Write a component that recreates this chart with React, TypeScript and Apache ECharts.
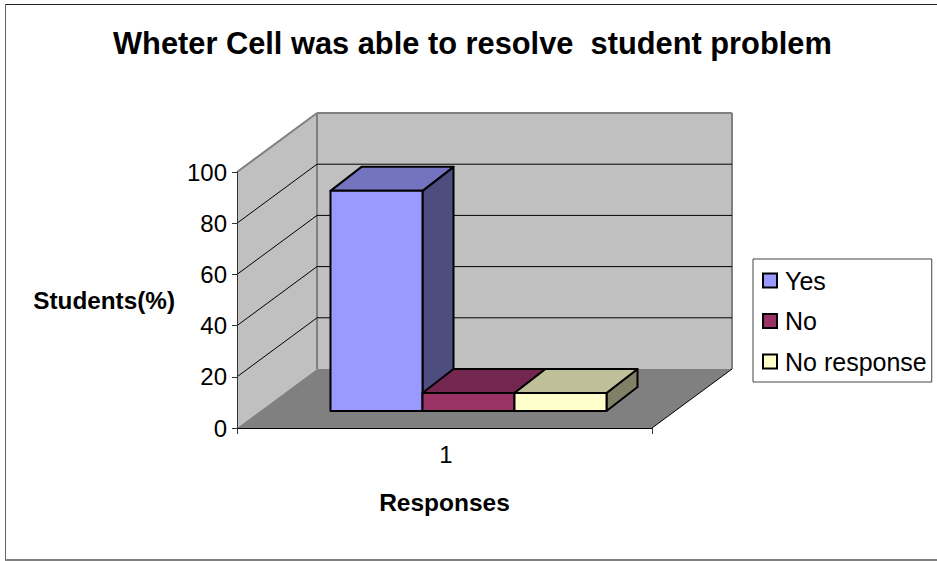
import React, { useEffect, useRef } from "react";
import * as echarts from "echarts";

const titleText = "Wheter Cell was able to resolve  student problem";
const categories = ["1"];
const seriesNames = ["Yes", "No", "No response"];
const yesValues = [86];
const noValues = [7];
const noResponseValues = [7];
const yTicks = [0, 20, 40, 60, 80, 100];
const frontColors = ["#9999ff", "#993366", "#ffffcc"];
const topColors = ["#7373bf", "#732650", "#bfbf99"];
const sideColors = ["#4d4d80", "#4d1a33", "#808066"];

const FONT = "Liberation Sans";
const WALL_DX = 80;
const WALL_DY = -59;
const BAR_OFF_DX = 24;
const BAR_OFF_DY = -17;
const BAR_DX = 31;
const BAR_DY = -24;
const BAR_SHARE = 0.2217;

const barRender = (index: number) => (_p: any, api: any) => {
  const catIdx = api.value(0);
  const val = api.value(1);
  const base = api.coord([catIdx, 0]);
  const top = api.coord([catIdx, val]);
  const w = api.size([1, 0])[0] * BAR_SHARE;
  const x0 = base[0] + (index - 1.5) * w + BAR_OFF_DX;
  const x1 = x0 + w;
  const yb = base[1] + BAR_OFF_DY;
  const yt = top[1] + BAR_OFF_DY;
  const line = { stroke: "#000", lineWidth: 2, lineJoin: "round" };
  return {
    type: "group",
    children: [
      {
        type: "polygon",
        shape: { points: [[x1, yt], [x1 + BAR_DX, yt + BAR_DY], [x1 + BAR_DX, yb + BAR_DY], [x1, yb]] },
        style: { fill: sideColors[index], ...line },
      },
      {
        type: "polygon",
        shape: { points: [[x0, yt], [x0 + BAR_DX, yt + BAR_DY], [x1 + BAR_DX, yt + BAR_DY], [x1, yt]] },
        style: { fill: topColors[index], ...line },
      },
      {
        type: "rect",
        shape: { x: x0, y: yt, width: w, height: yb - yt },
        style: { fill: frontColors[index], ...line },
      },
    ],
  };
};

const wallRender = (_p: any, api: any) => {
  const lo = yTicks[0];
  const hi = yTicks[yTicks.length - 1];
  const w = api.size([1, 0])[0];
  const c0 = api.coord([0, lo]);
  const c1 = api.coord([0, hi]);
  const xl = c0[0] - w / 2;
  const xr = c0[0] + w / 2;
  const yB = c0[1];
  const yT = c1[1];
  const edge = { stroke: "#808080", lineWidth: 2 };
  return {
    type: "group",
    children: [
      {
        type: "polygon",
        shape: { points: [[xl, yB], [xl, yT], [xl + WALL_DX, yT + WALL_DY], [xl + WALL_DX, yB + WALL_DY]] },
        style: { fill: "#c0c0c0" },
      },
      {
        type: "rect",
        shape: { x: xl + WALL_DX, y: yT + WALL_DY, width: w, height: yB - yT },
        style: { fill: "#c0c0c0" },
      },
      {
        type: "polygon",
        shape: { points: [[xl, yB], [xr, yB], [xr + WALL_DX, yB + WALL_DY], [xl + WALL_DX, yB + WALL_DY]] },
        style: { fill: "#808080" },
      },
      { type: "line", shape: { x1: xl, y1: yT, x2: xl + WALL_DX, y2: yT + WALL_DY }, style: edge },
      { type: "line", shape: { x1: xl + WALL_DX, y1: yT + WALL_DY, x2: xr + WALL_DX, y2: yT + WALL_DY }, style: edge },
      { type: "line", shape: { x1: xl + WALL_DX, y1: yT + WALL_DY, x2: xl + WALL_DX, y2: yB + WALL_DY }, style: edge },
      { type: "line", shape: { x1: xr + WALL_DX, y1: yT + WALL_DY, x2: xr + WALL_DX, y2: yB + WALL_DY }, style: edge },
      { type: "line", shape: { x1: xr, y1: yB, x2: xr + WALL_DX, y2: yB + WALL_DY }, style: { stroke: "#000", lineWidth: 1 } },
    ],
  };
};

const gridLineRender = (_p: any, api: any) => {
  const w = api.size([1, 0])[0];
  const c = api.coord([0, api.value(1)]);
  const xl = c[0] - w / 2;
  const xr = c[0] + w / 2;
  const y = c[1];
  const style = { stroke: "#000", lineWidth: 1 };
  return {
    type: "group",
    children: [
      { type: "line", shape: { x1: xl, y1: y, x2: xl + WALL_DX, y2: y + WALL_DY }, style },
      { type: "line", shape: { x1: xl + WALL_DX, y1: y + WALL_DY, x2: xr + WALL_DX, y2: y + WALL_DY }, style },
    ],
  };
};

export default function App() {
  const ref = useRef<HTMLDivElement>(null);
  useEffect(() => {
    const chart = echarts.init(ref.current!, undefined, { renderer: "svg" });
    const valueLists = [yesValues, noValues, noResponseValues];
    chart.setOption({
      animation: false,
      backgroundColor: "#ffffff",
      textStyle: { fontFamily: FONT },
      title: {
        text: titleText,
        left: 113,
        top: 28,
        padding: 0,
        textStyle: { fontFamily: FONT, fontSize: 30.8, fontWeight: "bold", color: "#000" },
      },
      grid: { left: 237, right: 285, top: 172, bottom: 133, outerBoundsMode: "none" },
      legend: {
        orient: "vertical",
        left: 753,
        top: 259,
        padding: [9, 5, 8, 9],
        itemWidth: 14,
        itemHeight: 14,
        itemGap: 15.5,
        backgroundColor: "#ffffff",
        borderColor: "#444444",
        borderWidth: 1,
        textStyle: { fontFamily: FONT, fontSize: 25, color: "#000", padding: [0, 0, 0, 3] },
        data: seriesNames.map((name, i) => ({
          name,
          icon: "rect",
          itemStyle: { color: frontColors[i], borderColor: "#000", borderWidth: 2 },
        })),
      },
      xAxis: {
        type: "category",
        data: categories,
        z: 3,
        name: "Responses",
        nameLocation: "middle",
        nameGap: 62,
        nameTextStyle: { fontFamily: FONT, fontSize: 24.5, fontWeight: "bold", color: "#000" },
        axisLine: { lineStyle: { color: "#000", width: 1 } },
        axisTick: { show: true, length: 6, lineStyle: { color: "#333" } },
        axisLabel: { fontFamily: FONT, fontSize: 24, color: "#000", margin: 14, padding: [0, 0, 0, 3] },
      },
      yAxis: {
        type: "value",
        min: 0,
        max: 100,
        interval: 20,
        z: 3,
        name: "Students(%)",
        nameLocation: "middle",
        nameRotate: 0,
        nameGap: 62,
        nameTextStyle: { fontFamily: FONT, fontSize: 24.3, fontWeight: "bold", color: "#000", padding: [2, 0, 0, 0] },
        axisLine: { show: true, lineStyle: { color: "#333", width: 1 } },
        axisTick: { show: true, length: 5, lineStyle: { color: "#333" } },
        axisLabel: { fontFamily: FONT, fontSize: 24, color: "#000", margin: 10 },
        splitLine: { show: false },
      },
      graphic: [
        { type: "line", silent: true, shape: { x1: 5, y1: 4.5, x2: 937, y2: 4.5 }, style: { stroke: "#222", lineWidth: 1 } },
        { type: "line", silent: true, shape: { x1: 5.5, y1: 4, x2: 5.5, y2: 560 }, style: { stroke: "#666", lineWidth: 1 } },
        { type: "line", silent: true, shape: { x1: 5, y1: 560, x2: 937, y2: 560 }, style: { stroke: "#808080", lineWidth: 2 } },
      ],
      series: [
        { type: "custom", name: "walls", silent: true, z: 1, data: [[0, 0]], renderItem: wallRender },
        {
          type: "custom",
          name: "gridlines",
          silent: true,
          z: 2,
          data: yTicks.slice(1, -1).map((v) => [0, v]),
          renderItem: gridLineRender,
        },
        ...seriesNames.map((name, i) => ({
          type: "custom",
          name,
          silent: true,
          z: 4 + i,
          itemStyle: { color: frontColors[i] },
          data: valueLists[i].map((v, k) => [k, v]),
          renderItem: barRender(i),
        })),
      ],
    });
    return () => chart.dispose();
  }, []);
  return <div ref={ref} style={{ position: "fixed", left: 0, top: 0, width: 937, height: 561 }} />;
}
